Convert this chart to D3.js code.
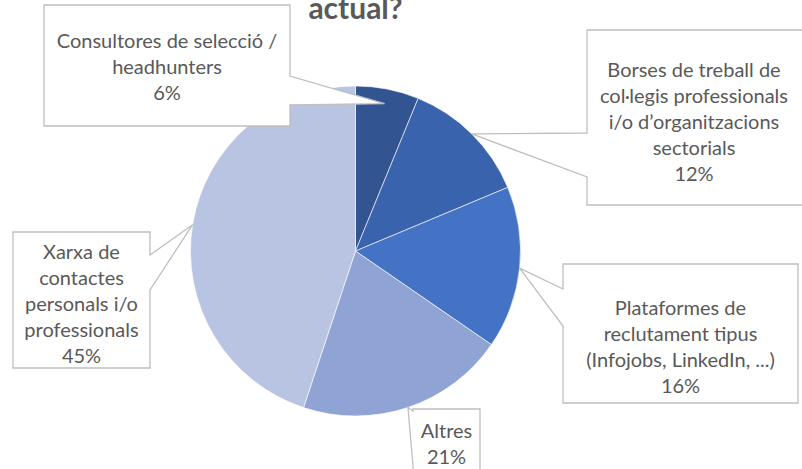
<!DOCTYPE html>
<html>
<head>
<meta charset="utf-8">
<script src="https://cdn.jsdelivr.net/npm/d3@7"></script>
<style>
  body { margin: 0; background: #fff; }
  svg { display: block; }
</style>
</head>
<body>
<svg id="chart" width="802" height="469"></svg>
<script>
// --- data ---
const titleText = "actual?";
const categories = [
  "Consultores de selecció / headhunters",
  "Borses de treball de col·legis professionals i/o d’organitzacions sectorials",
  "Plataformes de reclutament tipus (Infojobs, LinkedIn, ...)",
  "Altres",
  "Xarxa de contactes personals i/o professionals"
];
const values = [6.2, 12.5, 15.9, 20.5, 44.9];
const pctLabels = ["6%", "12%", "16%", "21%", "45%"];
const labelLines = [
  ["Consultores de selecció /", "headhunters"],
  ["Borses de treball de", "col·legis professionals", "i/o d’organitzacions", "sectorials"],
  ["Plataformes de", "reclutament tipus", "(Infojobs, LinkedIn, ...)"],
  ["Altres"],
  ["Xarxa de", "contactes", "personals i/o", "professionals"]
];
const colors = ["#325592", "#3A63AD", "#4472C4", "#8FA3D4", "#B9C3E2"];

// callout boxes (layout)
const boxes = [
  {x0: 44,  x1: 290, y0: 5,   y1: 126, side: "right", a1: 76,  a2: 105, tipR: 0.91, base: 48},
  {x0: 587, x1: 812, y0: 30,  y1: 205, side: "left",  a1: 133, a2: 177, tipR: 1.0,  base: 77, cx: 694},
  {x0: 563, x1: 798, y0: 264, y1: 403, side: "left",  a1: 289, a2: 326, tipR: 1.0,  base: 315},
  {x0: 413, x1: 480, y0: 409, y1: 480, side: "left",  a1: 411, a2: 466, tipR: 1.0,  base: 438},
  {x0: 13,  x1: 150, y0: 232, y1: 368, side: "right", a1: 255, a2: 290, tipR: 1.0,  base: 259}
];

const cx = 355.5, cy = 251, radius = 165;
const lineH = 26;

const svg = d3.select("#chart");

const pie = d3.pie().sort(null).value(d => d);
const arcs = pie(values);
const arc = d3.arc().innerRadius(0).outerRadius(radius);

const g = svg.append("g").attr("transform", `translate(${cx},${cy})`);
g.selectAll("path.slice")
  .data(arcs)
  .enter().append("path")
  .attr("class", "slice")
  .attr("d", arc)
  .attr("fill", (d, i) => colors[i])
  .attr("stroke", "#ffffff")
  .attr("stroke-width", 0.6);

// title (its upper lines are outside the picture, as in the reference)
svg.append("text")
  .attr("x", cx)
  .attr("y", 19)
  .attr("text-anchor", "middle")
  .attr("font-family", "Lato, 'Open Sans', sans-serif")
  .attr("font-weight", "bold")
  .attr("font-size", 30)
  .attr("fill", "#595959")
  .text(titleText);

// callouts
const callouts = svg.append("g");
arcs.forEach((a, i) => {
  const b = boxes[i];
  const mid = (a.startAngle + a.endAngle) / 2;
  const tr = radius * b.tipR;
  const tx = cx + Math.sin(mid) * tr;
  const ty = cy - Math.cos(mid) * tr;

  const p = d3.path();
  if (b.side === "right") {
    p.moveTo(b.x0, b.y0);
    p.lineTo(b.x1, b.y0);
    p.lineTo(b.x1, b.a1);
    p.lineTo(tx, ty);
    p.lineTo(b.x1, b.a2);
    p.lineTo(b.x1, b.y1);
    p.lineTo(b.x0, b.y1);
    p.closePath();
  } else {
    p.moveTo(b.x0, b.y0);
    p.lineTo(b.x1, b.y0);
    p.lineTo(b.x1, b.y1);
    p.lineTo(b.x0, b.y1);
    p.lineTo(b.x0, b.a2);
    p.lineTo(tx, ty);
    p.lineTo(b.x0, b.a1);
    p.closePath();
  }
  callouts.append("path")
    .attr("d", p.toString())
    .attr("fill", "#ffffff")
    .attr("stroke", "#BFBFBF")
    .attr("stroke-width", 1.3)
    .attr("stroke-linejoin", "miter");

  const lines = labelLines[i].concat([pctLabels[i]]);
  const textX = b.cx !== undefined ? b.cx : (b.x0 + b.x1) / 2;
  const t = callouts.append("text")
    .attr("text-anchor", "middle")
    .attr("font-family", "Lato, 'Open Sans', sans-serif")
    .attr("font-size", 20)
    .attr("fill", "#595959");
  lines.forEach((ln, k) => {
    t.append("tspan")
      .attr("x", textX)
      .attr("y", b.base + k * lineH)
      .text(ln);
  });
});
</script>
</body>
</html>
